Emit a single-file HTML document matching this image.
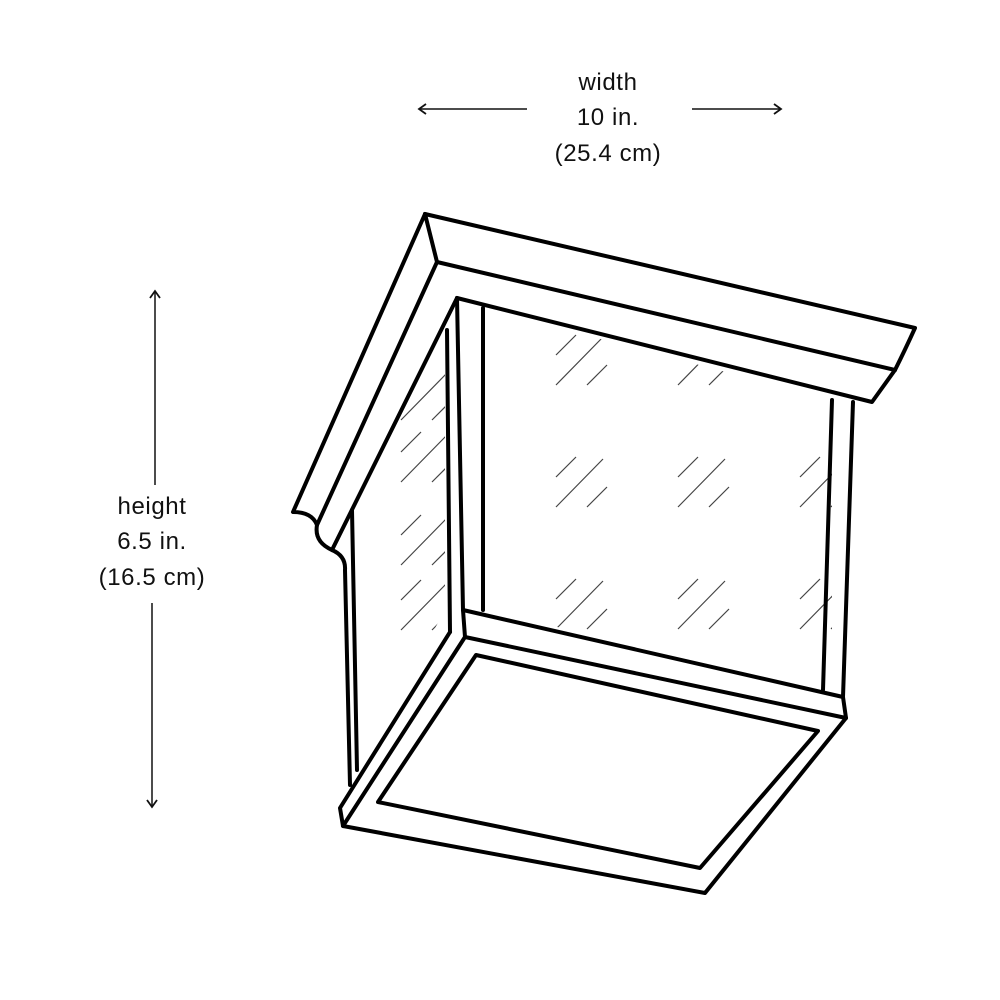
<!DOCTYPE html>
<html><head><style>
html,body{margin:0;padding:0;background:#fff;}
svg{display:block;}
text{font-family:"Liberation Sans",sans-serif;font-size:24px;fill:#111;letter-spacing:0.6px;}
</style></head><body>
<svg width="1000" height="1000" viewBox="0 0 1000 1000" xmlns="http://www.w3.org/2000/svg">
<defs>
<marker id="ah" markerWidth="14" markerHeight="14" refX="11" refY="7" orient="auto" markerUnits="userSpaceOnUse">
<path d="M4,2 L11,7 L4,12" fill="none" stroke="#111" stroke-width="1.8"/>
</marker>
<clipPath id="front"><polygon points="483,308 832,400 832,690 483,610"/></clipPath>
<clipPath id="left"><polygon points="445,335 445,610 357,770 352,510"/></clipPath>
<g id="hatch" stroke="#444" stroke-width="1.2" fill="none">
<line x1="556" y1="355" x2="576" y2="335"/>
<line x1="556" y1="385" x2="603" y2="337"/>
<line x1="587" y1="385" x2="607" y2="365"/>
</g>
</defs>
<g text-anchor="middle">
<text x="608" y="90">width</text>
<text x="608" y="125">10 in.</text>
<text x="608" y="161">(25.4 cm)</text>
<text x="152" y="514">height</text>
<text x="152" y="549">6.5 in.</text>
<text x="152" y="585">(16.5 cm)</text>
</g>
<g stroke="#111" stroke-width="1.5" fill="none">
<line x1="527" y1="109" x2="419" y2="109" marker-end="url(#ah)"/>
<line x1="692" y1="109" x2="781" y2="109" marker-end="url(#ah)"/>
<line x1="155" y1="485" x2="155" y2="291" marker-end="url(#ah)"/>
<line x1="152" y1="603" x2="152" y2="807" marker-end="url(#ah)"/>
</g>
<g clip-path="url(#front)">
<use href="#hatch"/><use href="#hatch" x="122"/><use href="#hatch" x="244"/>
<use href="#hatch" y="122"/><use href="#hatch" x="122" y="122"/><use href="#hatch" x="244" y="122"/>
<use href="#hatch" y="244"/><use href="#hatch" x="122" y="244"/><use href="#hatch" x="244" y="244"/>
</g>
<g clip-path="url(#left)">
<use href="#hatch" x="-155" y="35"/><use href="#hatch" x="-155" y="97"/><use href="#hatch" x="-155" y="180"/><use href="#hatch" x="-155" y="245"/>
</g>
<g stroke="#000" stroke-width="4" fill="none" stroke-linejoin="round" stroke-linecap="round">
<path d="M425,214 L915,328 Q905,350 895,370 L872,402 L457,298"/>
<path d="M437,262 L895,370"/>
<path d="M425,214 L437,262"/>
<path d="M425,214 L293,512 Q312,512 317,525 Q314,542 332,550"/>
<path d="M437,262 L317,525"/>
<path d="M457,298 L332,550 Q346,556 345,570 L350,785"/>
<path d="M352,510 L357,770"/>
<path d="M457,298 L463,610"/>
<path d="M447,330 L450,632"/>
<path d="M483,308 L483,610"/>
<path d="M853,402 L843,697"/>
<path d="M832,400 L823,690"/>
<path d="M463,610 L843,697 L846,718 L705,893 L343,826 L340,808 L450,632"/>
<path d="M465,637 L846,718"/>
<path d="M465,637 L343,826"/>
<path d="M463,610 L465,637"/>
<path d="M476,655 L818,731 L700,868 L378,802 Z"/>
</g>
</svg>
</body></html>
